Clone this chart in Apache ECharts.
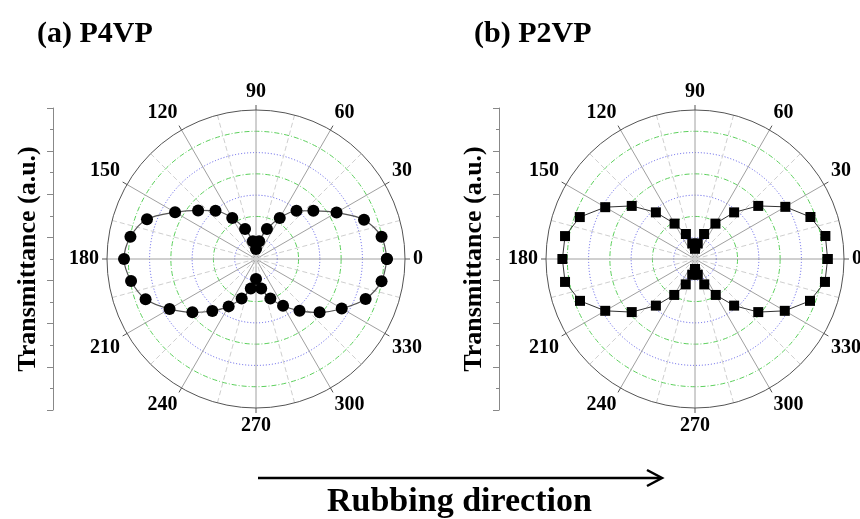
<!DOCTYPE html>
<html>
<head>
<meta charset="utf-8">
<script src="https://cdn.jsdelivr.net/npm/echarts@6/dist/echarts.min.js"></script>
<style>
  html, body { margin: 0; padding: 0; background: #fff; }
  #chart { width: 860px; height: 519px; }
</style>
</head>
<body>
<div id="chart"></div>
<script>
// angle of each measurement (deg)
var angles = [0, 10, 20, 30, 40, 50, 60, 70, 80, 90, 100, 110, 120, 130, 140, 150, 160, 170,
              180, 190, 200, 210, 220, 230, 240, 250, 260, 270, 280, 290, 300, 310, 320, 330, 340, 350];
// transmittance (a.u.)
var p4vp = [6.15, 5.99, 5.40, 4.37, 3.52, 2.96, 2.23, 1.50, 0.85, 0.47, 0.85, 1.50, 2.23, 2.96, 3.55, 4.39, 5.45, 5.99,
            6.20, 5.96, 5.52, 4.69, 3.90, 3.19, 2.57, 1.97, 1.41, 0.94, 1.41, 1.97, 2.54, 3.18, 3.90, 4.65, 5.48, 5.99];
var p2vp = [6.23, 6.22, 5.77, 4.90, 3.88, 2.86, 1.92, 1.25, 0.74, 0.48, 0.74, 1.25, 1.92, 2.86, 3.88, 4.87, 5.76, 6.20,
            6.23, 6.20, 5.75, 4.87, 3.88, 2.86, 1.95, 1.27, 0.75, 0.47, 0.75, 1.27, 1.95, 2.86, 3.88, 4.87, 5.75, 6.20];
var titles = ['(a) P4VP', '(b) P2VP'];

var serif = 'Liberation Serif';
var T = 'rgba(0,0,0,0)';
var BLUE = '#5858e8';
var GREEN = '#5cd05c';

// closed loop: repeat the first point at 360
function loop(vals) {
  var out = angles.map(function (a, i) { return [vals[i], a]; });
  out.push([vals[0], 360]);
  return out;
}

function mainAngle(idx) {
  return {
    polarIndex: idx, type: 'value', min: 0, max: 360, interval: 30,
    startAngle: 0, clockwise: false,
    axisLine: { lineStyle: { color: '#555', width: 1 } },
    axisTick: { show: true, length: 5, lineStyle: { color: '#555' } },
    axisLabel: { margin: 8, color: '#000', fontFamily: serif, fontWeight: 'bold', fontSize: 20 },
    splitLine: { show: true, lineStyle: { color: '#a0a0a0', width: 1 } },
    minorTick: { show: false, splitNumber: 2 },
    minorSplitLine: { show: true, lineStyle: { color: '#cfcfcf', type: [5, 3] } }
  };
}
function hiddenAngle(idx) {
  return {
    polarIndex: idx, type: 'value', min: 0, max: 360, interval: 30, startAngle: 0, clockwise: false,
    axisLine: { show: false }, axisTick: { show: false }, axisLabel: { show: false }, splitLine: { show: false }
  };
}
function ringAxis(idx, colors, type) {
  return {
    polarIndex: idx, type: 'value', min: 0, max: 7, interval: 1,
    axisLine: { show: false }, axisTick: { show: false }, axisLabel: { show: false },
    splitLine: { show: true, lineStyle: { color: colors, width: 1, type: type } }
  };
}
var blueRings = [T, BLUE, T, BLUE, T, BLUE, T, T];
var greenRings = [T, T, GREEN, T, GREEN, T, GREEN, T];

function bracket(gi) {
  return {
    gridIndex: gi, type: 'value', min: 0, max: 14, interval: 2, position: 'left',
    name: 'Transmittance (a.u.)', nameLocation: 'middle', nameRotate: 90, nameGap: 12,
    nameTextStyle: { color: '#000', fontFamily: serif, fontWeight: 'bold', fontSize: 26 },
    axisLine: { show: true, lineStyle: { color: '#888' } },
    axisTick: { show: true, length: 6, lineStyle: { color: '#888' } },
    minorTick: { show: true, splitNumber: 2, length: 3, lineStyle: { color: '#888' } },
    axisLabel: { show: false }, splitLine: { show: false }
  };
}

var chart = echarts.init(document.getElementById('chart'));
chart.setOption({
  animation: false,
  backgroundColor: '#fff',
  title: [
    { text: titles[0], left: 32, top: 14, textStyle: { fontFamily: serif, fontWeight: 'bold', fontSize: 30, color: '#000' } },
    { text: titles[1], left: 469, top: 14, textStyle: { fontFamily: serif, fontWeight: 'bold', fontSize: 30, color: '#000' } },
    { text: 'Rubbing direction', left: 322, top: 480, textStyle: { fontFamily: serif, fontWeight: 'bold', fontSize: 34, color: '#000' } }
  ],
  grid: [
    { left: 53, top: 108, height: 302, width: 1 },
    { left: 499, top: 108, height: 302, width: 1 }
  ],
  xAxis: [{ gridIndex: 0, show: false }, { gridIndex: 1, show: false }],
  yAxis: [bracket(0), bracket(1)],
  polar: [
    { center: [256, 259], radius: 149 },
    { center: [256, 259], radius: 149 },
    { center: [695, 259], radius: 149 },
    { center: [695, 259], radius: 149 }
  ],
  angleAxis: [mainAngle(0), hiddenAngle(1), mainAngle(2), hiddenAngle(3)],
  radiusAxis: [
    ringAxis(0, blueRings, [1, 2]),
    ringAxis(1, greenRings, [5, 2, 1, 2]),
    ringAxis(2, blueRings, [1, 2]),
    ringAxis(3, greenRings, [5, 2, 1, 2])
  ],
  series: [
    {
      name: 'P4VP', type: 'line', coordinateSystem: 'polar', polarIndex: 0,
      data: loop(p4vp), smooth: 0.3,
      symbol: 'circle', symbolSize: 12,
      itemStyle: { color: '#000' },
      lineStyle: { color: '#555', width: 1.2 }, z: 5
    },
    {
      name: 'P2VP', type: 'line', coordinateSystem: 'polar', polarIndex: 2,
      data: loop(p2vp), smooth: false,
      symbol: 'rect', symbolSize: 10,
      itemStyle: { color: '#000' },
      lineStyle: { color: '#333', width: 1 }, z: 5
    }
  ],
  graphic: [
    { type: 'line', shape: { x1: 258, y1: 478, x2: 661, y2: 478 }, style: { stroke: '#000', lineWidth: 2.5 } },
    { type: 'polyline', shape: { points: [[647, 470], [662, 478], [647, 486]] }, style: { stroke: '#000', lineWidth: 2.5, fill: null } }
  ]
});
</script>
</body>
</html>
